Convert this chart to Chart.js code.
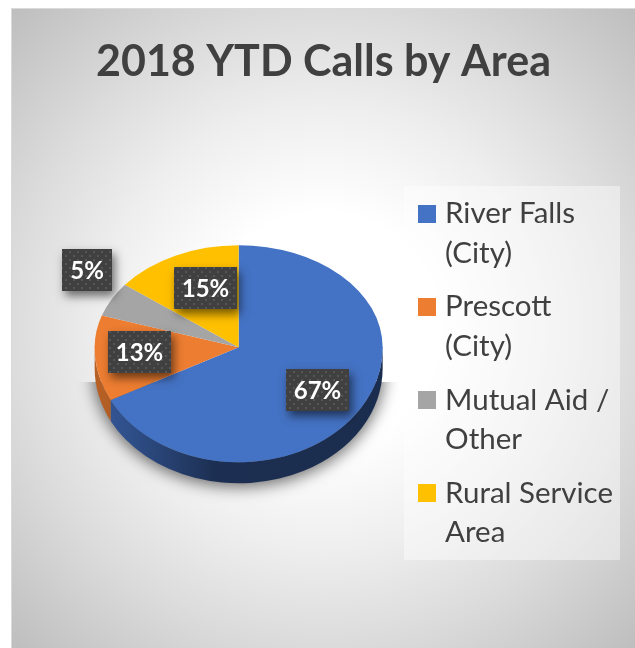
<!DOCTYPE html>
<html><head><meta charset="utf-8">
<script src="https://cdn.jsdelivr.net/npm/chart.js@4"></script>
<style>
html,body{margin:0;padding:0;background:#fff;overflow:hidden;width:635px;height:648px}
#edge{position:absolute;left:11px;top:8px;width:624px;height:640px;background:#dadada}
#frame{position:absolute;left:12px;top:9px;width:623px;height:639px;
 background:radial-gradient(circle 446px at 50% 50%,#ffffff 0%,#ffffff 26%,#eeeeee 50%,#dcdcdc 70%,#bebebe 100%);}
#panel{position:absolute;left:392px;top:177px;width:216px;height:374px;background:rgba(255,255,255,.42)}
canvas{position:absolute;left:0;top:0}
</style></head>
<body><div id="edge"></div><div id="frame"><div id="panel"></div><canvas id="c" width="623" height="639"></canvas></div>
<script>
const titleText = '2018 YTD Calls by Area';
const categories = [['River Falls','(City)'],['Prescott','(City)'],['Mutual Aid /','Other'],['Rural Service','Area']];
const values = [67.49, 12.6, 5.49, 14.5];
const colors = ['#4472C4','#ED7D31','#A5A5A5','#FFC000'];
const valueLabels = ['67%','13%','5%','15%'];

const FONT = 'Lato, Carlito, sans-serif';
const squish = {top:102/144, bottom:115/144, depth:21};
const labelOffset = [[78.5,42.7],[-99.5,4.3],[-152,-77.5],[-33.5,-59.3]]; // from pie apex

function swatch(color){const s=document.createElement('canvas');s.width=18;s.height=18;
  const g=s.getContext('2d');g.fillStyle=color;g.fillRect(0,0,18,18);return s;}
function dots(){const s=document.createElement('canvas');s.width=8;s.height=8;
  const g=s.getContext('2d');g.fillStyle='#404040';g.fillRect(0,0,8,8);g.fillStyle='#565656';
  g.fillRect(1,2,2,2);g.fillRect(5,6,2,2);return s;}
function shade(hex,f){const n=parseInt(hex.slice(1),16);
  return `rgb(${(n>>16&255)*f|0},${(n>>8&255)*f|0},${(n&255)*f|0})`;}

const pie3d = {
  id:'pie3d',
  afterLayout(chart){const t=chart.titleBlock;t.left=0;t.right=chart.width;},
  beforeDatasetDraw(chart,args){
    const ctx=chart.ctx, arcs=args.meta.data, a0=arcs[0];
    const cx=a0.x, cy=a0.y, r=a0.outerRadius, ryB=r*squish.bottom, d=squish.depth;
    const seam=Math.round(cy);
    // soft shadow only (the casting shape sits off the canvas), cut off level with the wall
    const away=3000;
    ctx.save();
    ctx.beginPath();ctx.rect(0,seam+35,chart.width,chart.height);ctx.clip();
    ctx.shadowColor='rgba(0,0,0,.55)';ctx.shadowBlur=15;ctx.shadowOffsetX=away;ctx.shadowOffsetY=2;
    ctx.fillStyle='#000';
    ctx.beginPath();ctx.ellipse(cx-away,cy+d,r+2,ryB+2,0,0,2*Math.PI);ctx.fill();
    ctx.restore();
    // side wall, lower half only
    arcs.forEach((arc,i)=>{
      const s=Math.max(arc.startAngle,0), e=Math.min(arc.endAngle,Math.PI);
      if(e<=s) return;
      const g=ctx.createLinearGradient(cx-r,0,cx+r,0);
      const c=colors[i];
      g.addColorStop(0,shade(c,.78));g.addColorStop(.12,shade(c,.7));
      g.addColorStop(.42,shade(c,.42));g.addColorStop(1,shade(c,.4));
      ctx.fillStyle=g;
      ctx.beginPath();
      ctx.ellipse(cx,cy,r,ryB,0,s,e);
      ctx.ellipse(cx,cy+d,r,ryB,0,e,s,true);
      ctx.closePath();ctx.fill();
    });
    // top surface, squashed by the library's own arcs; the halves overlap by a pixel
    [[cy-r-3,seam+1,squish.top],[seam,cy+r+3,squish.bottom]].forEach(([y0,y1,k])=>{
      ctx.save();
      ctx.beginPath();ctx.rect(Math.floor(cx-r-3),Math.floor(y0),2*r+6,Math.ceil(y1)-Math.floor(y0));ctx.clip();
      ctx.translate(0,cy);ctx.scale(1,k);ctx.translate(0,-cy);
      arcs.forEach(a=>a.draw(ctx));
      ctx.restore();
    });
    return false;
  },
  afterDatasetsDraw(chart){
    const ctx=chart.ctx, arcs=chart.getDatasetMeta(0).data, a0=arcs[0];
    const pat=ctx.createPattern(dots(),'repeat');
    valueLabels.forEach((t,i)=>{
      ctx.save();
      ctx.font='bold 24px '+FONT;
      const w=i===2?50:63, h=42;
      const x=Math.round(a0.x+labelOffset[i][0]-w/2), y=Math.round(a0.y+labelOffset[i][1]-h/2);
      ctx.shadowColor='rgba(0,0,0,.55)';ctx.shadowBlur=9;ctx.shadowOffsetX=3;ctx.shadowOffsetY=5;
      ctx.fillStyle='#404040';ctx.fillRect(x,y,w,h);
      ctx.shadowColor='transparent';
      ctx.fillStyle=pat;ctx.fillRect(x,y,w,h);
      ctx.fillStyle='#fff';ctx.textAlign='center';ctx.textBaseline='middle';
      ctx.fillText(t,x+w/2,y+h/2+1);
      ctx.restore();
    });
  }
};

new Chart(document.getElementById('c'),{
  type:'pie',
  data:{labels:categories,datasets:[{data:values,backgroundColor:colors,borderWidth:0}]},
  plugins:[pie3d],
  options:{
    responsive:false,animation:false,radius:144,
    layout:{padding:{left:56,right:12,top:0,bottom:76}},
    plugins:{
      tooltip:{enabled:false},
      title:{display:true,text:titleText,color:'#404040',
        font:{family:FONT,size:43,weight:'bold',lineHeight:1.2},
        padding:{top:27,bottom:35}},
      legend:{position:'right',align:'end',
        labels:{
          font:{family:FONT,size:29.5,lineHeight:1.335},color:'#404040',
          padding:14.5,usePointStyle:true,pointStyleWidth:6.5,boxHeight:18,
          generateLabels(chart){
            return categories.map((t,i)=>({text:t,fillStyle:colors[i],strokeStyle:colors[i],
              lineWidth:0,pointStyle:swatch(colors[i]),hidden:false,index:i,fontColor:'#404040'}));
          }
        }
      }
    }
  }
});
</script></body></html>
